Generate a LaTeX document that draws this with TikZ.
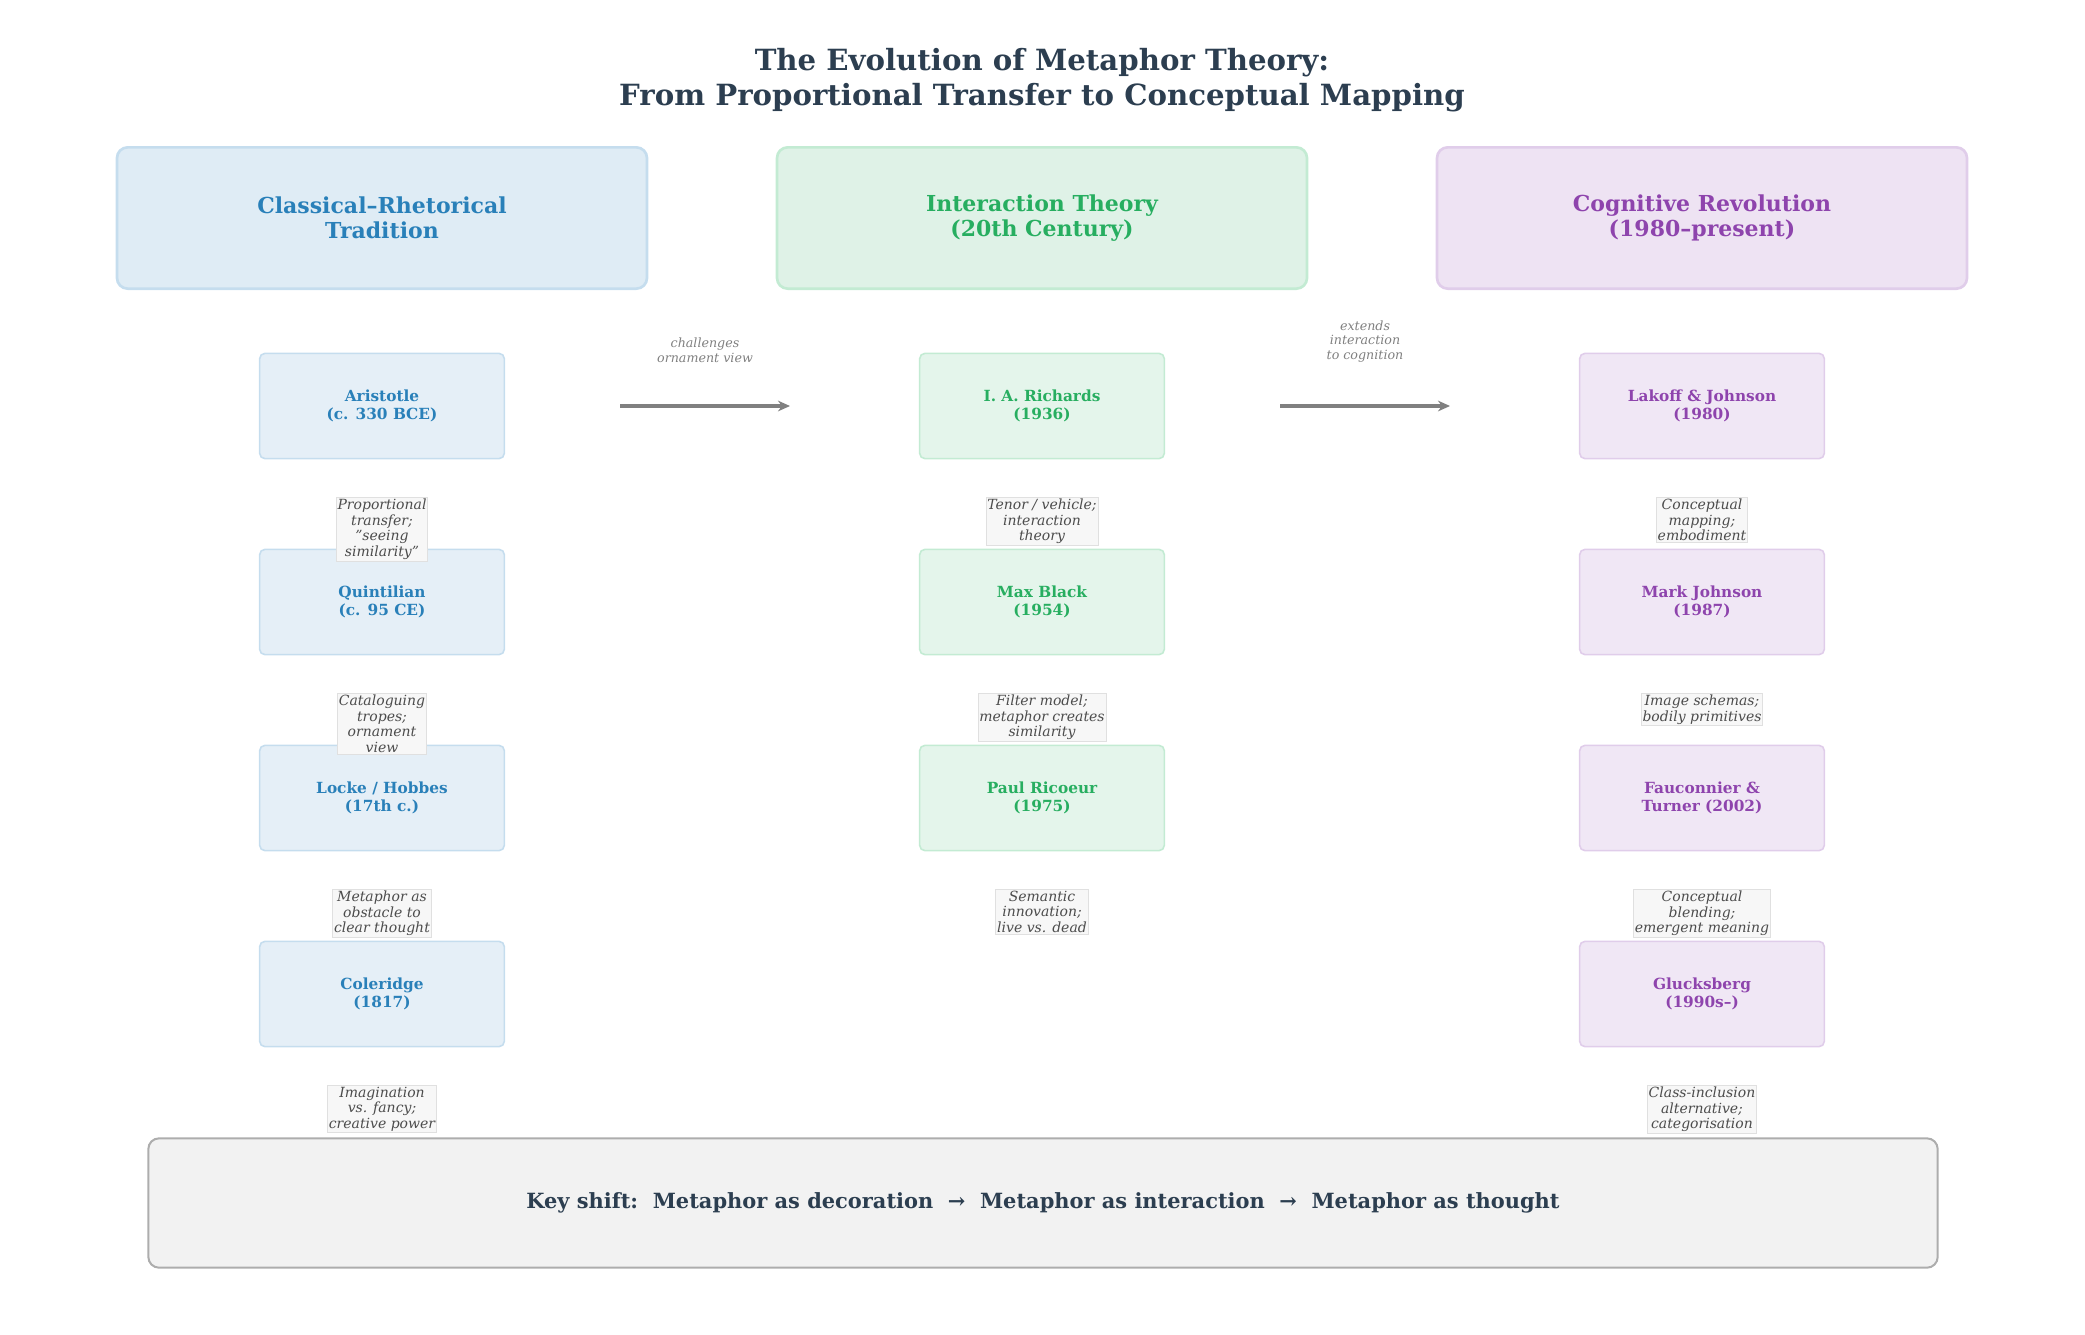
\documentclass[tikz,border=0pt]{standalone}
\usepackage{fontspec}
\setmainfont{DejaVu Serif}
\usetikzlibrary{arrows.meta}
\definecolor{tblue}{HTML}{2980B9}\definecolor{tgreen}{HTML}{27AE60}\definecolor{tpurp}{HTML}{8E44AD}
\definecolor{ttitle}{HTML}{2C3E50}
\definecolor{hbf}{HTML}{DFECF5}\definecolor{hbd}{HTML}{C5DDEE}
\definecolor{hgf}{HTML}{DFF2E7}\definecolor{hgd}{HTML}{C3EBD3}
\definecolor{hpf}{HTML}{EEE3F3}\definecolor{hpd}{HTML}{E0CDEA}
\definecolor{sbf}{HTML}{E5EFF7}\definecolor{sgf}{HTML}{E4F5EB}\definecolor{spf}{HTML}{F0E7F5}
\begin{document}
\begin{tikzpicture}[x=0.75pt,y=-0.75pt,
 head/.style={rounded corners=8pt,line width=2pt,minimum width=397.5pt,minimum height=106pt,align=center,font=\bfseries\fontsize{16.5}{19}\selectfont},
 item/.style={rounded corners=4pt,line width=1.2pt,minimum width=183.5pt,minimum height=79pt,align=center,font=\bfseries\fontsize{11.5}{13.5}\selectfont},
 note/.style={anchor=north,fill=black!3,draw=black!12,line width=0.6pt,inner sep=1pt,align=center,text=black!70,font=\itshape\fontsize{10.5}{11.8}\selectfont},
 alab/.style={anchor=south,align=center,text=black!50,font=\itshape\fontsize{9.5}{11}\selectfont},
 arr/.style={draw=black!50,line width=3pt,-{Stealth[length=9pt,width=8pt]}}]
\useasboundingbox (0,0) rectangle (2085,1335);
\node[text=ttitle,align=center,font=\bfseries\fontsize{21.9}{26}\selectfont] (title) at (1042,80) {The Evolution of Metaphor Theory:\\From Proportional Transfer to Conceptual Mapping};
\node[head,fill=hbf,draw=hbd,text=tblue] (h1) at (382,218) {Classical–Rhetorical\\Tradition};
\node[head,fill=hgf,draw=hgd,text=tgreen] (h2) at (1042,218) {Interaction Theory\\(20th Century)};
\node[head,fill=hpf,draw=hpd,text=tpurp] (h3) at (1702,218) {Cognitive Revolution\\(1980–present)};
% column 1
\node[item,fill=sbf,draw=hbd,text=tblue] (a1) at (382,406) {Aristotle\\(c. 330 BCE)};
\node[item,fill=sbf,draw=hbd,text=tblue] (a2) at (382,602) {Quintilian\\(c. 95 CE)};
\node[item,fill=sbf,draw=hbd,text=tblue] (a3) at (382,798) {Locke / Hobbes\\(17th c.)};
\node[item,fill=sbf,draw=hbd,text=tblue] (a4) at (382,994) {Coleridge\\(1817)};
\node[note] (n1) at (382,497) {Proportional\\transfer;\\\symbol{34}seeing\\similarity\symbol{34}};
\node[note] (n2) at (382,693) {Cataloguing\\tropes;\\ornament\\view};
\node[note] (n3) at (382,889) {Metaphor as\\obstacle to\\clear thought};
\node[note] (n4) at (382,1085) {Imagination\\vs. fancy;\\creative power};
% column 2
\node[item,fill=sgf,draw=hgd,text=tgreen] (b1) at (1042,406) {I. A. Richards\\(1936)};
\node[item,fill=sgf,draw=hgd,text=tgreen] (b2) at (1042,602) {Max Black\\(1954)};
\node[item,fill=sgf,draw=hgd,text=tgreen] (b3) at (1042,798) {Paul Ricoeur\\(1975)};
\node[note] (m1) at (1042,497) {Tenor / vehicle;\\interaction\\theory};
\node[note] (m2) at (1042,693) {Filter model;\\metaphor creates\\similarity};
\node[note] (m3) at (1042,889) {Semantic\\innovation;\\live vs. dead};
% column 3
\node[item,fill=spf,draw=hpd,text=tpurp] (c1) at (1702,406) {Lakoff \& Johnson\\(1980)};
\node[item,fill=spf,draw=hpd,text=tpurp] (c2) at (1702,602) {Mark Johnson\\(1987)};
\node[item,fill=spf,draw=hpd,text=tpurp] (c3) at (1702,798) {Fauconnier \&\\Turner (2002)};
\node[item,fill=spf,draw=hpd,text=tpurp] (c4) at (1702,994) {Glucksberg\\(1990s–)};
\node[note] (p1) at (1702,497) {Conceptual\\mapping;\\embodiment};
\node[note] (p2) at (1702,693) {Image schemas;\\bodily primitives};
\node[note] (p3) at (1702,889) {Conceptual\\blending;\\emergent meaning};
\node[note] (p4) at (1702,1085) {Class-inclusion\\alternative;\\categorisation};
% arrows
\coordinate (s1) at (620,406); \coordinate (e1) at (790,406);
\coordinate (s2) at (1280,406); \coordinate (e2) at (1450,406);
\draw[arr] (s1) -- (e1);
\draw[arr] (s2) -- (e2);
\node[alab] (l1) at (705,367) {challenges\\ornament view};
\node[alab] (l2) at (1365,367) {extends\\interaction\\to cognition};
% bottom
\node[rounded corners=8pt,fill=black!5,draw=black!32,line width=1.5pt,minimum width=1342pt,minimum height=97pt,text=ttitle,font=\bfseries\fontsize{15.7}{18}\selectfont] (key) at (1043,1203) {Key shift:\ \ Metaphor as decoration\ \ →\ \ Metaphor as interaction\ \ →\ \ Metaphor as thought};
\end{tikzpicture}
\end{document}
